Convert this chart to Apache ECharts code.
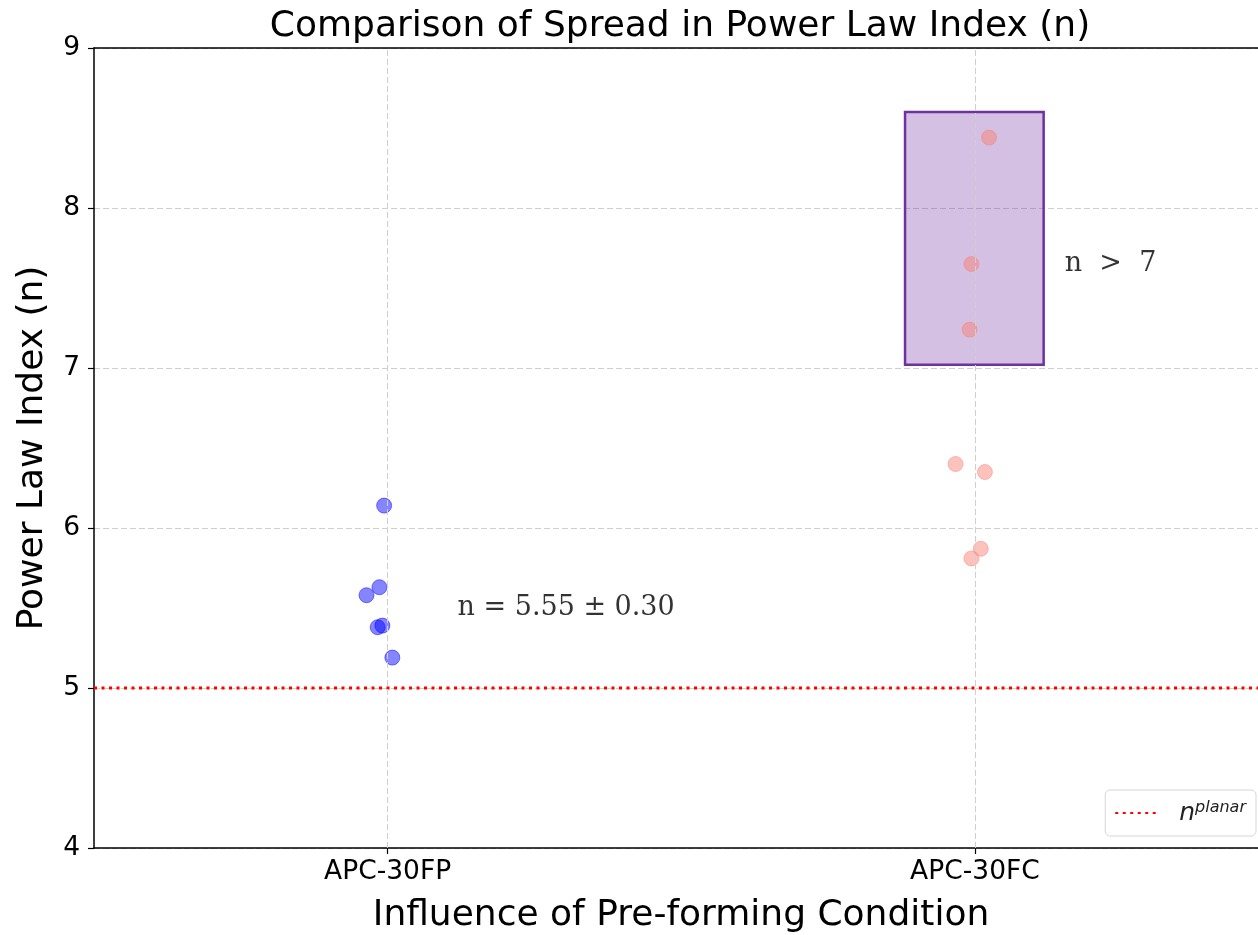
<!DOCTYPE html>
<html>
<head>
<meta charset="utf-8">
<script src="https://cdn.jsdelivr.net/npm/echarts@6/dist/echarts.min.js"></script>
<style>html,body{margin:0;padding:0;background:#fff}#c{width:1258px;height:935px}</style>
</head>
<body>
<div id="c"></div>
<script>
// ---- data ----
const categories = ['APC-30FP', 'APC-30FC'];
const categoryPos = [0, 1];
// jittered x offsets and values for each group
const fpJitter = [-0.006, -0.014, -0.036, -0.017, -0.009, 0.008];
const fpValues = [6.14, 5.63, 5.58, 5.38, 5.39, 5.19];
const fcJitter = [0.024, -0.006, -0.009, -0.033, 0.017, 0.010, -0.006];
const fcValues = [8.44, 7.65, 7.24, 6.40, 6.35, 5.87, 5.81];
const planarN = 5.0;
const boxX = [0.881, 1.117];
const boxY = [7.02, 8.60];
const annotFP = {x: 0.119, y: 5.5, text: 'n = 5.55 ± 0.30'};
const annotFC = {x: 1.153, y: 7.65, text: 'n  >  7'};

const xMin = -0.5, xMax = 1.482;

const fpData = fpValues.map((v, i) => [categoryPos[0] + fpJitter[i], v]);
const fcData = fcValues.map((v, i) => [categoryPos[1] + fcJitter[i], v]);

const chart = echarts.init(document.getElementById('c'));
const gridColor = '#cfcfcf';
chart.setOption({
  animation: false,
  backgroundColor: '#fff',
  title: {
    text: 'Comparison of Spread in Power Law Index (n)',
    left: 675, top: 4, textAlign: 'center',
    textStyle: {fontFamily: 'DejaVu Sans', fontSize: 36, fontWeight: 'normal', color: '#000'}
  },
  grid: {left: 94, right: 0, top: 48, bottom: 87, containLabel: false, outerBoundsMode: 'none'},
  legend: {
    right: 2, bottom: 99,
    data: ['planar'],
    padding: [10, 10, 10, 9],
    itemWidth: 42, itemHeight: 10,
    itemStyle: {opacity: 0},
    borderColor: '#d6d6d6', borderWidth: 1, borderRadius: 5,
    backgroundColor: '#fff',
    formatter: () => '{i|n}{s|planar}',
    textStyle: {
      padding: [0, 0, 0, 17],
      rich: {
        i: {fontFamily: 'DejaVu Sans', fontStyle: 'italic', fontSize: 25, color: '#222', verticalAlign: 'bottom'},
        s: {fontFamily: 'DejaVu Sans', fontStyle: 'italic', fontSize: 16, color: '#222', verticalAlign: 'top', padding: [0, 0, 10, 0]}
      }
    }
  },
  xAxis: [{
    type: 'value', min: xMin, max: xMax,
    name: 'Influence of Pre-forming Condition',
    nameLocation: 'middle', nameGap: 50,
    nameTextStyle: {fontFamily: 'DejaVu Sans', fontSize: 36, color: '#000', padding: [0, 0, 0, 10]},
    axisLine: {show: true, onZero: false, lineStyle: {color: '#000', width: 1.5}},
    axisTick: {show: true, inside: false, length: 6, customValues: categoryPos, lineStyle: {color: '#000', width: 1.2}},
    axisLabel: {
      customValues: categoryPos, margin: 11,
      formatter: (v) => { const i = categoryPos.indexOf(v); return i >= 0 ? categories[i] : ''; },
      fontFamily: 'DejaVu Sans', fontSize: 26.5, color: '#000'
    },
    splitLine: {show: false}
  }, {
    type: 'value', min: xMin, max: xMax, position: 'top',
    axisLine: {show: true, onZero: false, lineStyle: {color: '#000', width: 1.5}},
    axisTick: {show: false}, axisLabel: {show: false}, splitLine: {show: false}
  }],
  yAxis: {
    type: 'value', min: 4, max: 9, interval: 1,
    name: 'Power Law Index (n)',
    nameLocation: 'middle', nameGap: 43,
    nameTextStyle: {fontFamily: 'DejaVu Sans', fontSize: 36, color: '#000'},
    axisLine: {show: true, onZero: false, lineStyle: {color: '#000', width: 1.5}},
    axisTick: {show: true, inside: false, length: 6, lineStyle: {color: '#000', width: 1.2}},
    axisLabel: {margin: 14, fontFamily: 'DejaVu Sans', fontSize: 26.5, color: '#000'},
    splitLine: {show: true, lineStyle: {color: gridColor, type: [6, 3], width: 1}}
  },
  series: [
    {
      type: 'line', name: 'vgrid', silent: true, data: [], z: 1,
      markLine: {
        silent: true, symbol: ['none', 'none'], label: {show: false},
        lineStyle: {color: gridColor, type: [6, 3], width: 1},
        data: categoryPos.map(p => ({xAxis: p}))
      }
    },
    {
      type: 'line', name: 'planar', data: [[xMin, planarN], [xMax, planarN]],
      symbol: 'none', z: 3,
      lineStyle: {color: '#ff0000', width: 3, type: [3, 4.5]},
      itemStyle: {color: '#ff0000'}
    },
    {
      type: 'scatter', name: 'FP', data: fpData, symbolSize: 15, z: 4,
      itemStyle: {color: 'rgba(0,0,255,0.6)', borderColor: 'rgba(0,0,255,0.6)', borderWidth: 1}
    },
    {
      type: 'scatter', name: 'FC', data: fcData, symbolSize: 15, z: 4,
      itemStyle: {color: 'rgba(250,128,114,0.6)', borderColor: 'rgba(250,128,114,0.6)', borderWidth: 1}
    },
    {
      type: 'scatter', name: 'box', data: [], z: 6, silent: true,
      markArea: {
        silent: true,
        itemStyle: {color: 'rgba(112,48,160,0.3)', borderColor: '#7030a0', borderWidth: 2.5},
        data: [[{coord: [boxX[0], boxY[0]]}, {coord: [boxX[1], boxY[1]]}]]
      }
    },
    {
      type: 'scatter', name: 'annot', silent: true, symbolSize: 0, z: 7,
      data: [[annotFP.x, annotFP.y, annotFP.text], [annotFC.x, annotFC.y, annotFC.text]],
      label: {
        show: true, position: [0, 0], align: 'left', verticalAlign: 'middle',
        formatter: (p) => p.data[2],
        fontFamily: 'DejaVu Serif', fontSize: 27, color: '#000'
      }
    }
  ]
});
</script>
</body>
</html>
